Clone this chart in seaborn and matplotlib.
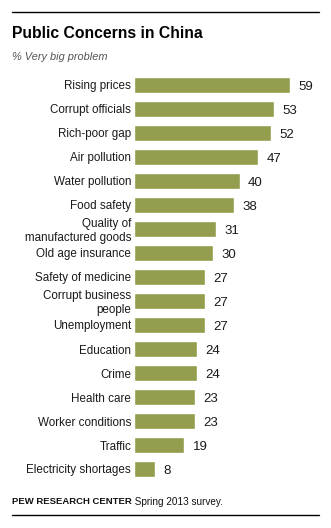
import matplotlib
matplotlib.use("Agg")
import matplotlib.pyplot as plt
import seaborn as sns
import pandas as pd
from matplotlib.lines import Line2D

categories = [
    "Rising prices", "Corrupt officials", "Rich-poor gap", "Air pollution",
    "Water pollution", "Food safety", "Quality of\nmanufactured goods",
    "Old age insurance", "Safety of medicine", "Corrupt business\npeople",
    "Unemployment", "Education", "Crime", "Health care",
    "Worker conditions", "Traffic", "Electricity shortages",
]
values = [59, 53, 52, 47, 40, 38, 31, 30, 27, 27, 27, 24, 24, 23, 23, 19, 8]

title = "Public Concerns in China"
subtitle = "% Very big problem"
source_org = "PEW RESEARCH CENTER"
source_rest = " Spring 2013 survey."

sns.set_theme(style="white")
plt.rcParams["font.family"] = ["Liberation Sans", "DejaVu Sans"]

df = pd.DataFrame({"concern": categories, "pct": values})

W, H = 331, 528
fig = plt.figure(figsize=(W / 100, H / 100), dpi=100)
ax = fig.add_axes([134 / W, 1 - 481 / H, 185 / W, 408 / H])

sns.barplot(data=df, y="concern", x="pct", color="#949D4E", saturation=1,
            width=0.667, ax=ax, orient="h")
ax.set_xlim(0, 70)
ax.set_ylim(len(categories) - 0.5, -0.5)
ax.set_xlabel("")
ax.set_ylabel("")
ax.set_xticks([])
ax.tick_params(axis="y", length=0, pad=2, labelsize=8.4, colors="#1a1a1a")
for lab in ax.get_yticklabels():
    lab.set_linespacing(1.15)
sns.despine(ax=ax, left=True, bottom=True, top=True, right=True)

for i, v in enumerate(values):
    ax.annotate(str(v), xy=(v, i), xytext=(6, 0), textcoords="offset points",
                ha="left", va="center_baseline", fontsize=9.5, color="#1a1a1a")

# rules and header/footer text
fig.add_artist(Line2D([12 / W, 319 / W], [1 - 12 / H, 1 - 12 / H],
                      color="black", lw=1.0))
fig.add_artist(Line2D([12 / W, 319 / W], [1 - 515 / H, 1 - 515 / H],
                      color="black", lw=1.0))
fig.text(12 / W, 1 - 33 / H, title, fontsize=11.3, fontweight="bold",
         ha="left", va="center", color="black")
fig.text(12 / W, 1 - 57 / H, subtitle, fontsize=7.9, style="italic",
         ha="left", va="center", color="#555555")
org = fig.text(12 / W, 1 - 502 / H, source_org, fontsize=6.8, fontweight="bold",
               ha="left", va="center", color="#111111")
fig.canvas.draw()
bb = org.get_window_extent()
fig.text(bb.x1 / W, 1 - 502 / H, source_rest, fontsize=7.2,
         ha="left", va="center", color="#111111")

fig.savefig("out.png", dpi=100)
